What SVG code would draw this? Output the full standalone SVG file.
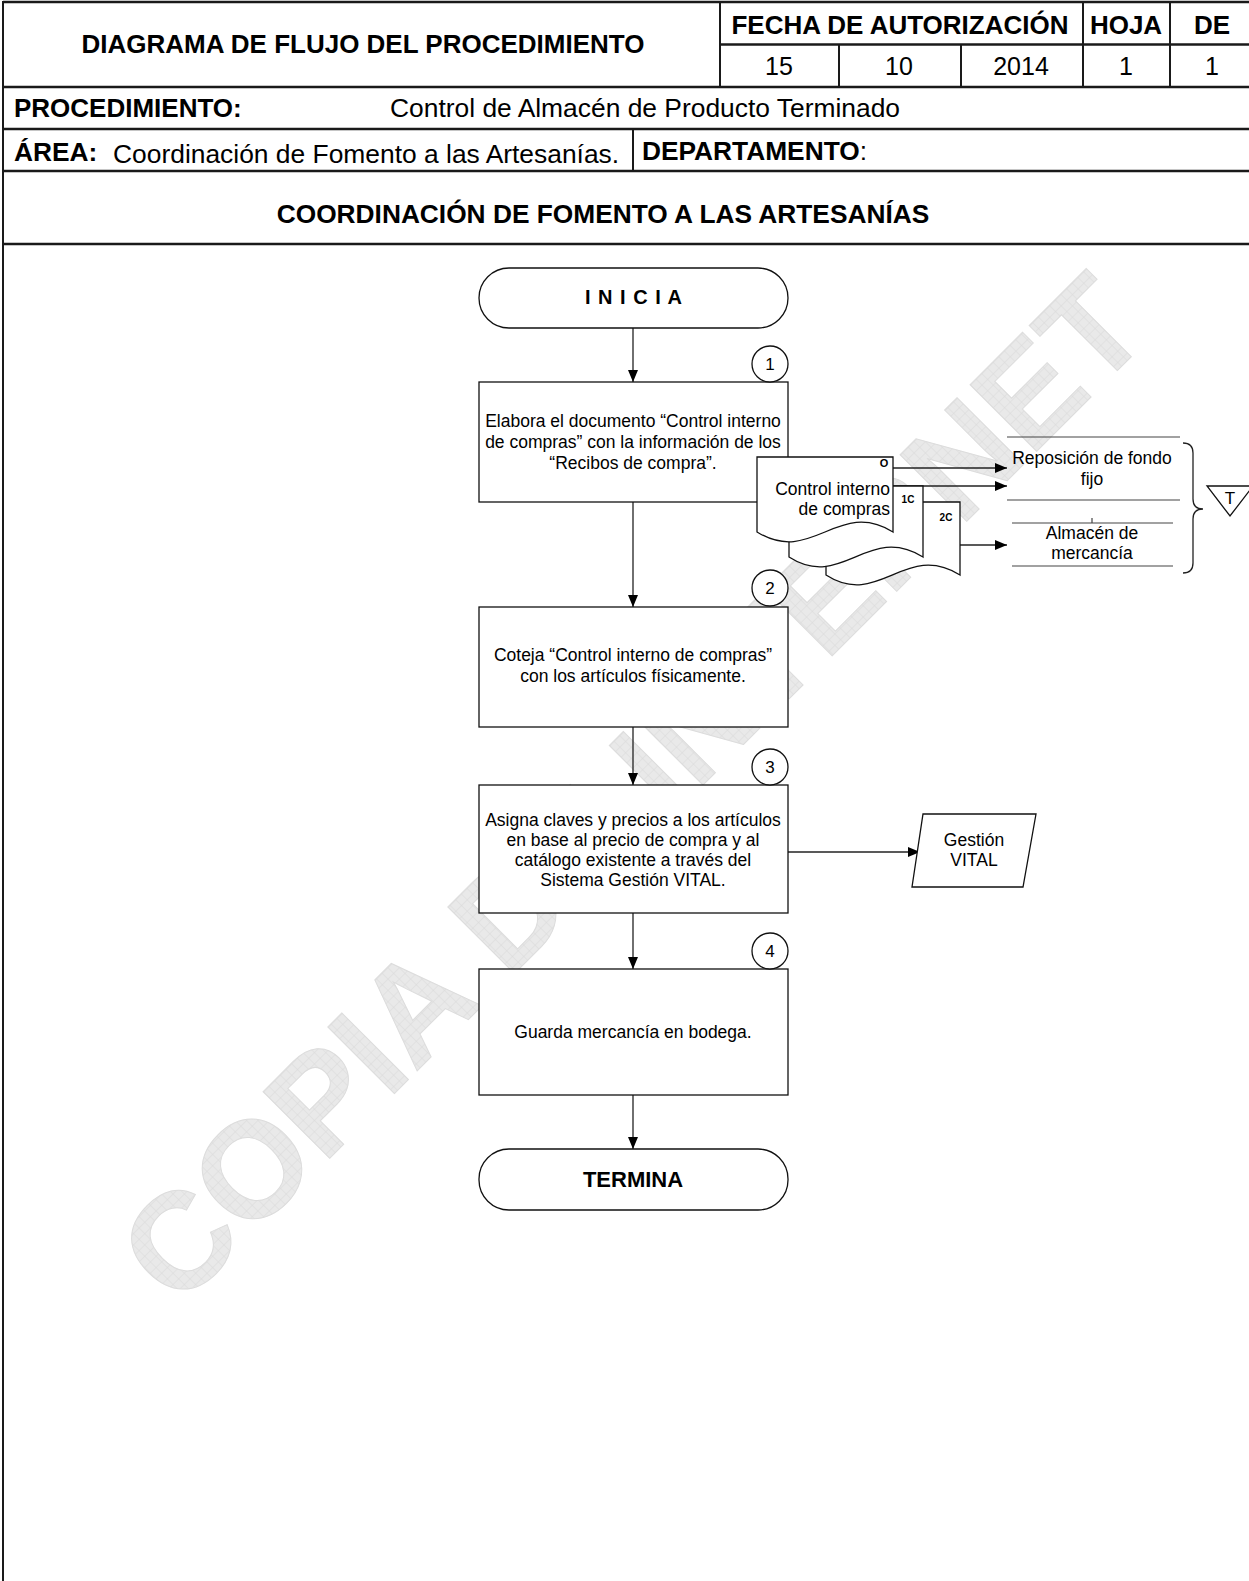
<svg xmlns="http://www.w3.org/2000/svg" width="1249" height="1581" viewBox="0 0 1249 1581">
<style>
text{font-family:"Liberation Sans",Arial,sans-serif;fill:#000}
.hb{font-weight:bold;font-size:26px}
.hr{font-size:25px}
.hr26{font-size:26.4px}
.hb26{font-weight:bold;font-size:26.3px}
.t{font-size:17.5px;text-anchor:middle}
.hl{stroke:#1a1a1a;stroke-width:2.5;fill:none}
.vl{stroke:#1a1a1a;stroke-width:2;fill:none}
.box{fill:#fff;stroke:#111;stroke-width:1.3}
.ln{stroke:#222;stroke-width:1.3;fill:none}
.thin{stroke:#444;stroke-width:1.2;fill:none}
.wm{font-family:"Liberation Sans",Arial,sans-serif;font-weight:bold;font-size:137px;fill:url(#grid);stroke:#dcdcdc;stroke-width:1}
</style>
<defs>
<marker id="ah" viewBox="0 0 12 10" refX="12" refY="5" markerWidth="12" markerHeight="10" markerUnits="userSpaceOnUse" orient="auto">
<path d="M0,0 L12,5 L0,10 Z" fill="#000"/>
</marker>
<pattern id="grid" width="8" height="8" patternUnits="userSpaceOnUse">
<rect width="8" height="8" fill="#e9e9e9"/>
<path d="M0,0 H8 M0,0 V8" stroke="#d9d9d9" stroke-width="1"/>
</pattern>
</defs>
<rect width="1249" height="1581" fill="#fff"/>

<!-- watermark -->
<g id="watermark">
<text class="wm" x="178" y="1310" transform="rotate(-45 178 1310)">COPIA DE INTERNET</text>
</g>

<!-- header -->
<g id="header">
<line class="hl" x1="3" y1="2" x2="1249" y2="2"/>
<line class="vl" x1="3" y1="1" x2="3" y2="1581"/>
<line class="vl" x1="720" y1="2" x2="720" y2="87"/>
<line class="hl" x1="720" y1="44.5" x2="1249" y2="44.5"/>
<line class="vl" x1="839" y1="44.5" x2="839" y2="87"/>
<line class="vl" x1="961" y1="44.5" x2="961" y2="87"/>
<line class="vl" x1="1083" y1="2" x2="1083" y2="87"/>
<line class="vl" x1="1170" y1="2" x2="1170" y2="87"/>
<line class="hl" x1="3" y1="87" x2="1249" y2="87" stroke-width="3"/>
<line class="hl" x1="3" y1="129" x2="1249" y2="129"/>
<line class="vl" x1="633" y1="129" x2="633" y2="171"/>
<line class="hl" x1="3" y1="171" x2="1249" y2="171"/>
<line class="hl" x1="3" y1="244" x2="1249" y2="244"/>
<text class="hb" x="363" y="53" text-anchor="middle" font-size="26.3">DIAGRAMA DE FLUJO DEL PROCEDIMIENTO</text>
<text class="hb" x="900" y="34" text-anchor="middle" font-size="25.5">FECHA DE AUTORIZACIÓN</text>
<text class="hb" x="1126" y="34" text-anchor="middle" font-size="23.5">HOJA</text>
<text class="hb" x="1212" y="34" text-anchor="middle" font-size="25">DE</text>
<text class="hr" x="779" y="75" text-anchor="middle">15</text>
<text class="hr" x="899" y="75" text-anchor="middle">10</text>
<text class="hr" x="1021" y="75" text-anchor="middle">2014</text>
<text class="hr" x="1126" y="75" text-anchor="middle">1</text>
<text class="hr" x="1212" y="75" text-anchor="middle">1</text>
<text class="hb" x="14" y="117">PROCEDIMIENTO:</text>
<text class="hr26" x="390" y="117" font-size="26.5">Control de Almacén de Producto Terminado</text>
<text class="hb26" x="14" y="161">ÁREA:</text>
<text class="hr26" x="113" y="163">Coordinación de Fomento a las Artesanías.</text>
<text class="hb26" x="642" y="160">DEPARTAMENTO<tspan font-weight="normal">:</tspan></text>
<text class="hb26" x="603" y="223" text-anchor="middle" font-size="26.6">COORDINACIÓN DE FOMENTO A LAS ARTESANÍAS</text>
</g>

<!-- connectors -->
<g id="connectors">
<line class="ln" x1="633" y1="328" x2="633" y2="382" marker-end="url(#ah)"/>
<line class="ln" x1="633" y1="502" x2="633" y2="607" marker-end="url(#ah)"/>
<line class="ln" x1="633" y1="727" x2="633" y2="785" marker-end="url(#ah)"/>
<line class="ln" x1="633" y1="913" x2="633" y2="969" marker-end="url(#ah)"/>
<line class="ln" x1="633" y1="1095" x2="633" y2="1149" marker-end="url(#ah)"/>
<line class="ln" x1="788" y1="852" x2="920" y2="852" marker-end="url(#ah)"/>
<line class="ln" x1="893" y1="468" x2="1007" y2="468" marker-end="url(#ah)"/>
<line class="ln" x1="893" y1="486" x2="1007" y2="486" marker-end="url(#ah)"/>
<line class="ln" x1="960" y1="545" x2="1007" y2="545" marker-end="url(#ah)"/>
</g>

<g id="inicia">
<rect class="box" x="479" y="268" width="309" height="60" rx="30" ry="30"/>
<text x="634" y="304" text-anchor="middle" font-weight="bold" font-size="20" letter-spacing="1">I N I C I A</text>
</g>

<g id="step1">
<rect class="box" x="479" y="382" width="309" height="120"/>
<circle class="box" cx="770" cy="364" r="18"/>
<text x="770" y="370" text-anchor="middle" font-size="17">1</text>
<text class="t" x="633" y="427">Elabora el documento “Control interno</text>
<text class="t" x="633" y="448">de compras” con la información de los</text>
<text class="t" x="633" y="469">“Recibos de compra”.</text>
</g>

<g id="documento">
<path class="box" d="M826,502 H960 V575 C905,541 879,609 826,575 Z"/>
<path class="box" d="M789,486 H923 V557 C868,523 842,591 789,557 Z"/>
<path class="box" d="M757,457 H893 V532 C838,498 812,566 757,532 Z"/>
<text x="884" y="467" text-anchor="middle" font-weight="bold" font-size="11">O</text>
<text x="908" y="503" text-anchor="middle" font-weight="bold" font-size="10">1C</text>
<text x="946" y="521" text-anchor="middle" font-weight="bold" font-size="10">2C</text>
<text x="890" y="495" text-anchor="end" font-size="17.5">Control interno</text>
<text x="890" y="515" text-anchor="end" font-size="17.5">de compras</text>
</g>

<g id="destinos">
<line class="thin" x1="1007" y1="437" x2="1180" y2="437"/>
<line class="thin" x1="1007" y1="500" x2="1180" y2="500"/>
<line class="thin" x1="1012" y1="523" x2="1173" y2="523"/>
<line class="thin" x1="1092" y1="518" x2="1092" y2="523"/>
<line class="thin" x1="1012" y1="566" x2="1173" y2="566"/>
<text class="t" x="1092" y="464">Reposición de fondo</text>
<text class="t" x="1092" y="485">fijo</text>
<text class="t" x="1092" y="539">Almacén de</text>
<text class="t" x="1092" y="559">mercancía</text>
<path class="ln" d="M1183,443 Q1193,443 1193,453 V499 Q1193,509 1203,509 Q1193,509 1193,519 V563 Q1193,573 1183,573"/>
</g>

<g id="archivo">
<path class="box" d="M1207,486 H1253 L1230,516 Z"/>
<text x="1230" y="504" text-anchor="middle" font-size="17">T</text>
</g>

<g id="step2">
<rect class="box" x="479" y="607" width="309" height="120"/>
<circle class="box" cx="770" cy="588" r="18"/>
<text x="770" y="594" text-anchor="middle" font-size="17">2</text>
<text class="t" x="633" y="661">Coteja “Control interno de compras”</text>
<text class="t" x="633" y="682">con los artículos físicamente.</text>
</g>

<g id="step3">
<rect class="box" x="479" y="785" width="309" height="128"/>
<circle class="box" cx="770" cy="767" r="18"/>
<text x="770" y="773" text-anchor="middle" font-size="17">3</text>
<text class="t" x="633" y="826">Asigna claves y precios a los artículos</text>
<text class="t" x="633" y="846">en base al precio de compra y al</text>
<text class="t" x="633" y="866">catálogo existente a través del</text>
<text class="t" x="633" y="886">Sistema Gestión VITAL.</text>
</g>

<g id="gestion">
<path class="box" d="M923,814 H1036 L1023,887 H912 Z"/>
<text class="t" x="974" y="846">Gestión</text>
<text class="t" x="974" y="866">VITAL</text>
</g>

<g id="step4">
<rect class="box" x="479" y="969" width="309" height="126"/>
<circle class="box" cx="770" cy="951" r="18"/>
<text x="770" y="957" text-anchor="middle" font-size="17">4</text>
<text class="t" x="633" y="1038">Guarda mercancía en bodega.</text>
</g>

<g id="termina">
<rect class="box" x="479" y="1149" width="309" height="61" rx="30" ry="30"/>
<text x="633" y="1187" text-anchor="middle" font-weight="bold" font-size="22">TERMINA</text>
</g>
</svg>
